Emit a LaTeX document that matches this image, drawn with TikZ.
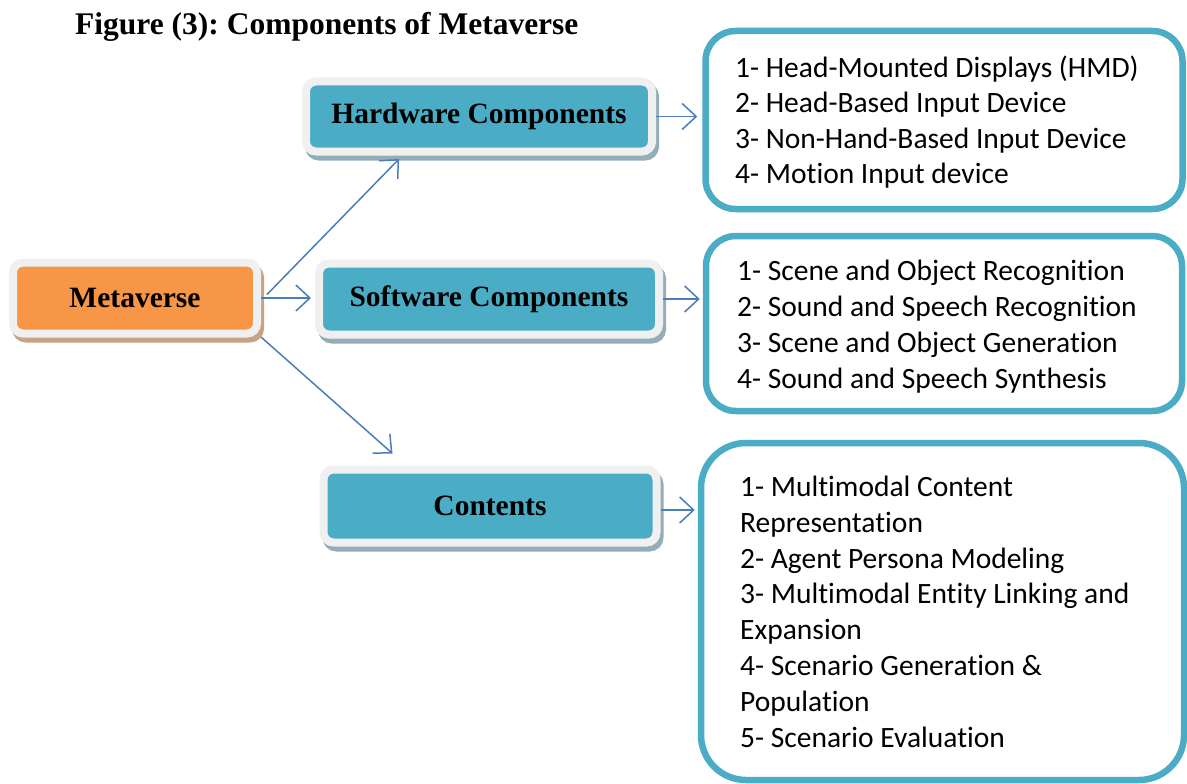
\documentclass[tikz,border=0pt]{standalone}
\usepackage{fontspec}
\setmainfont{Liberation Serif}
\newfontfamily\listfont[Ligatures={NoCommon}]{Carlito}
\usetikzlibrary{arrows.meta,shadows,calc}
\definecolor{orng}{HTML}{F79646}
\definecolor{tealc}{HTML}{4BACC6}
\definecolor{framec}{HTML}{F0F0F0}
\definecolor{oshadow}{HTML}{C9A284}
\definecolor{tshadow}{HTML}{93AEB6}
\definecolor{arrowc}{HTML}{4A7EBB}
\frenchspacing
\tikzset{
  comp/.style={rounded corners=10pt, line width=8pt, draw=framec, inner sep=0pt,
    font=\bfseries\fontsize{29.5}{32}\selectfont, text=black},
  tealbox/.style={comp, fill=tealc,
    drop shadow={shadow xshift=3pt, shadow yshift=-5pt, fill=tshadow, draw=tshadow, line width=8pt, opacity=1}},
  orngbox/.style={comp, fill=orng,
    drop shadow={shadow xshift=3pt, shadow yshift=-5pt, fill=oshadow, draw=oshadow, line width=8pt, opacity=1}},
  listbox/.style={draw=tealc, line width=6.5pt, fill=white, inner sep=0pt},
  listtext/.style={anchor=base west, inner sep=0pt, align=left,
    font=\listfont\fontsize{29.5}{35.8}\selectfont},
  arr/.style={draw=arrowc, line width=1.5pt, -{Straight Barb[length=14pt,width=26pt,line width=1.5pt]}}
}
\begin{document}
\begin{tikzpicture}[x=1pt,y=-1pt]
\useasboundingbox (0,0) rectangle (1187,784);
\fill[white] (0,0) rectangle (1187,784);

\node[anchor=base west, inner sep=0pt, font=\bfseries\fontsize{31.5}{34}\selectfont] (title) at (75,35) {Figure (3): Components of Metaverse};

\node[orngbox, minimum width=244pt, minimum height=71pt] (m) at (135,298) {Metaverse};
\node[tealbox, minimum width=346pt, minimum height=70pt] (hw) at (479,116.5) {Hardware Components};
\node[tealbox, minimum width=340pt, minimum height=71pt] (sw) at (489,299) {Software Components};
\node[tealbox, minimum width=333pt, minimum height=73pt] (cn) at (490,506) {Contents};

\node[listbox, rounded corners=30pt, minimum width=477pt, minimum height=178pt] (l1) at (944,120) {};
\node[listbox, rounded corners=30pt, minimum width=476pt, minimum height=175pt] (l2) at (944,323.5) {};
\node[listbox, rounded corners=45pt, minimum width=483pt, minimum height=337pt] (l3) at (942.5,611.5) {};

\node[listtext, font=\listfont\fontsize{29.5}{35.5}\selectfont] (t1) at (735,183.5) {1- Head-Mounted Displays (HMD)\\2- Head-Based Input Device\\3- Non-Hand-Based Input Device\\4- Motion Input device};
\node[listtext, font=\listfont\fontsize{29.5}{36}\selectfont] (t2) at (737,388) {1- Scene and Object Recognition\\2- Sound and Speech Recognition\\3- Scene and Object Generation\\4- Sound and Speech Synthesis};
\node[listtext] (t3) at (740,747) {1- Multimodal Content\\Representation\\2- Agent Persona Modeling\\3- Multimodal Entity Linking and\\Expansion\\4- Scenario Generation \&\\Population\\5- Scenario Evaluation};

\draw[arr] ([xshift=6pt,yshift=-36pt]m.north east) -- ([xshift=97pt,yshift=-3.5pt]hw.south west);
\draw[arr] (m.east) -- ([xshift=-4pt]m.east -| sw.west);
\draw[arr] ([xshift=0pt,yshift=0.5pt]m.south east) -- ([xshift=73pt,yshift=12pt]cn.north west);
\draw[arr] (hw.east) -- ([xshift=-5pt]hw.east -| l1.west);
\draw[arr] (sw.east) -- ([xshift=-3pt]sw.east -| l2.west);
\draw[arr] ([yshift=-4pt]cn.east) -- ([xshift=-3pt,yshift=-4pt]cn.east -| l3.west);
\end{tikzpicture}
\end{document}
